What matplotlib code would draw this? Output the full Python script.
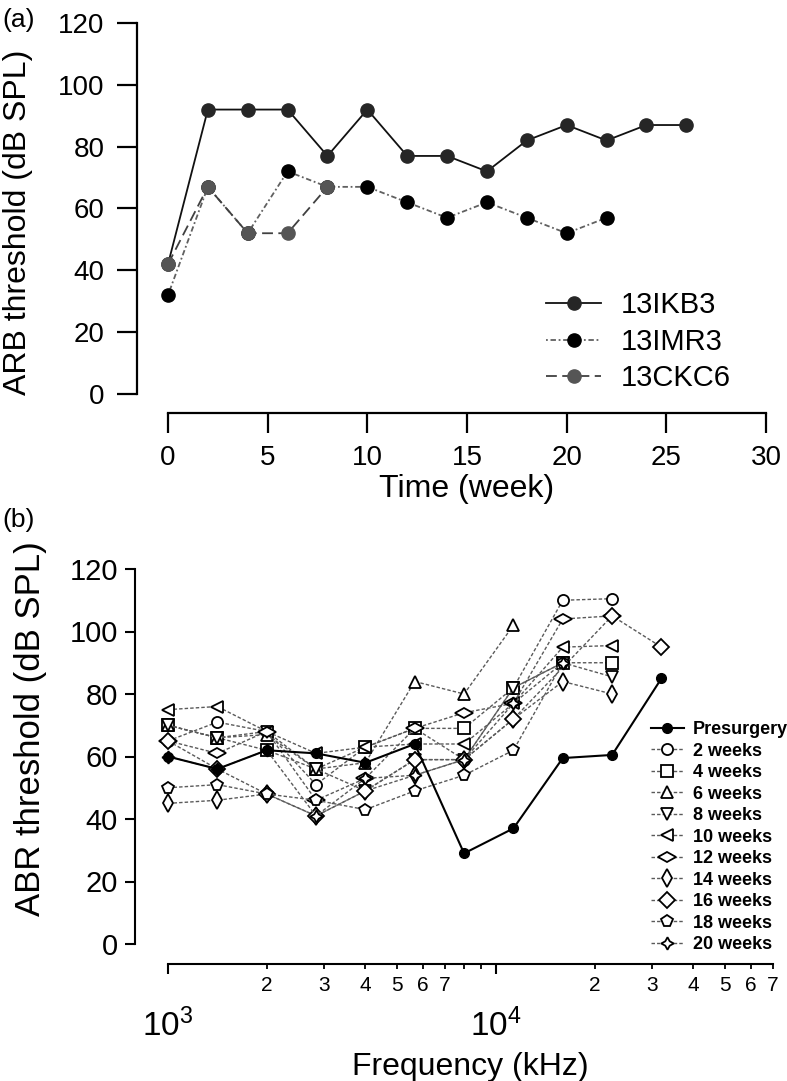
import numpy as np
import matplotlib
matplotlib.use("Agg")
import matplotlib.pyplot as plt
from matplotlib.markers import MarkerStyle
from matplotlib.transforms import Affine2D
from matplotlib.ticker import FixedLocator, FuncFormatter

plt.rcParams['font.family'] = ['Liberation Sans', 'DejaVu Sans']
plt.rcParams['mathtext.fontset'] = 'custom'
plt.rcParams['mathtext.rm'] = 'Liberation Sans'

# ---------------- Panel (a) data ----------------
weeks_ikb3 = [0, 2, 4, 6, 8, 10, 12, 14, 16, 18, 20, 22, 24, 26]
thr_ikb3 = [42, 92, 92, 92, 77, 92, 77, 77, 72, 82, 87, 82, 87, 87]
weeks_imr3 = [0, 2, 4, 6, 8, 10, 12, 14, 16, 18, 20, 22]
thr_imr3 = [32, 67, 52, 72, 67, 67, 62, 57, 62, 57, 52, 57]
weeks_ckc6 = [0, 2, 4, 6, 8]
thr_ckc6 = [42, 67, 52, 52, 67]
a_xticks = [0, 5, 10, 15, 20, 25, 30]
a_yticks = [0, 20, 40, 60, 80, 100, 120]

# ---------------- Panel (b) data ----------------
freqs = [1000, 1414, 2000, 2828, 4000, 5657, 8000, 11314, 16000, 22627, 32000]
series_names = ['Presurgery', '2 weeks', '4 weeks', '6 weeks', '8 weeks', '10 weeks',
                '12 weeks', '14 weeks', '16 weeks', '18 weeks', '20 weeks']
pre = [60, 56, 62, 61, 58, 64, 29, 37, 59.5, 60.5, 85]
w2 = [65, 71, 68, 51, 63, 69, 59, 82, 110, 110.5, None]
w4 = [70, 66, 62, 56, 63, 69, 69, 82, 90, 90, None]
w6 = [70, 66, 67, 56, 58, 84, 80, 102, None, None, None]
w8 = [70, 66, 68, 56, 49, 59, 59, 82, 90, 85.5, None]
w10 = [75, 76, 68, 61, 63, 64, 64, 77, 95, 95.5, None]
w12 = [65, 61, 68, 46, 53, 69, 74, 77, 104, 105, None]
w14 = [45, 46, 48, 41, 49, 54, 59, 72, 84, 80, None]
w16 = [65, 56, 48, 41, 49, 59, 59, 72, None, 105, 95]
w18 = [50, 51, 48, 46, 43, 49, 54, 62, 90, None, None]
w20 = [60, 56, 62, 41, 53, 54, 59, 77, 90, None, None]
b_yticks = [0, 20, 40, 60, 80, 100, 120]

W, H = 787, 1081
fig = plt.figure(figsize=(W / 100, H / 100), dpi=100)
PT = 0.72  # pt per px

# ---------------- Panel (a) ----------------
axa = fig.add_axes([168 / W, 1 - 394 / H, (766 - 168) / W, (394 - 23) / H])
axa.set_xlim(0, 30)
axa.set_ylim(0, 120)
ms_a = 9.5
axa.plot(weeks_ikb3, thr_ikb3, color='#111111', lw=1.3, ls='-', marker='o',
         ms=ms_a, mfc='#262626', mec='#262626', clip_on=False, label='13IKB3', zorder=3)
axa.plot(weeks_imr3, thr_imr3, color='#606060', lw=1.3, ls=(0, (1, 1.5, 3, 1.5)), marker='o',
         ms=ms_a, mfc='#000000', mec='#000000', clip_on=False, label='13IMR3', zorder=4)
axa.plot(weeks_ckc6, thr_ckc6, color='#404040', lw=1.3, ls=(0, (6, 3)), marker='o',
         ms=ms_a, mfc='#555555', mec='#555555', clip_on=False, label='13CKC6', zorder=5)
for s in ['top', 'right']:
    axa.spines[s].set_visible(False)
axa.spines['left'].set_position(('outward', 31 * PT))
axa.spines['bottom'].set_position(('outward', 19 * PT))
axa.spines['left'].set_bounds(0, 120)
axa.spines['bottom'].set_bounds(0, 30)
for s in ['left', 'bottom']:
    axa.spines[s].set_linewidth(1.6)
axa.set_xticks(a_xticks)
axa.set_yticks(a_yticks)
axa.tick_params(axis='both', length=20 * PT, width=1.6, labelsize=20, pad=9)
axa.set_ylabel('ARB threshold (dB SPL)', fontsize=23)
axa.yaxis.set_label_coords(-0.226, 0.464)
axa.set_xlabel('Time (week)', fontsize=23, labelpad=2)
axa.legend(loc='upper left', bbox_to_anchor=(546 / W, 1 - 291 / H), bbox_transform=fig.transFigure,
           frameon=False, fontsize=21, handlelength=1.9, handletextpad=0.65, labelspacing=0.3,
           borderpad=0, borderaxespad=0, numpoints=1)
fig.text(2 / W, 1 - 20 / H, '(a)', fontsize=19, va='center', ha='left')

# ---------------- Panel (b) ----------------
axb = fig.add_axes([168 / W, 1 - 944 / H, (773 - 168) / W, (944 - 569) / H])
axb.set_xscale('log')
axb.set_xlim(1000, 70000 * 1.0005)
axb.set_ylim(0, 120)

hdiamond = MarkerStyle('d', transform=Affine2D().rotate_deg(90))
markers = ['o', 'o', 's', '^', 'v', '<', hdiamond, 'd', 'D', 'p', (4, 1, 0)]
all_series = [pre, w2, w4, w6, w8, w10, w12, w14, w16, w18, w20]
msizes = [7, 8, 8, 8.5, 8.5, 8.5, 9, 9, 8, 8.5, 9]
handles = []
for i, (name, vals, mk, msz) in enumerate(zip(series_names, all_series, markers, msizes)):
    xs = [f for f, v in zip(freqs, vals) if v is not None]
    ys = [v for v in vals if v is not None]
    if i == 0:
        ln, = axb.plot(xs, ys, color='black', lw=1.5, ls='-', marker='o', ms=msz,
                       mfc='black', mec='black', clip_on=False, zorder=20, label=name)
    else:
        ln, = axb.plot(xs, ys, color='#5a5a5a', lw=1.0, ls=(0, (2.5, 1.5)), marker=mk, ms=msz,
                       mfc='white', mec='black', mew=1.3, clip_on=False, zorder=5 + i, label=name)
    handles.append(ln)

for s in ['top', 'right']:
    axb.spines[s].set_visible(False)
axb.spines['left'].set_position(('outward', 33 * PT))
axb.spines['bottom'].set_position(('outward', 20 * PT))
axb.spines['left'].set_bounds(0, 120)
axb.spines['bottom'].set_bounds(1000, 70000)
for s in ['left', 'bottom']:
    axb.spines[s].set_linewidth(1.5)
axb.set_yticks(b_yticks)
axb.tick_params(axis='y', length=10 * PT, width=1.5, labelsize=21, pad=5)

major_ticks = [1000, 10000]
minor_ticks = [2000, 3000, 4000, 5000, 6000, 7000, 8000, 9000,
               20000, 30000, 40000, 50000, 60000, 70000]
minor_labels = {2000: '2', 3000: '3', 4000: '4', 5000: '5', 6000: '6', 7000: '7',
                20000: '2', 30000: '3', 40000: '4', 50000: '5', 60000: '6', 70000: '7'}
axb.xaxis.set_major_locator(FixedLocator(major_ticks))
axb.xaxis.set_minor_locator(FixedLocator(minor_ticks))
axb.xaxis.set_major_formatter(FuncFormatter(
    lambda x, p: r'$\mathregular{10^{%d}}$' % int(round(np.log10(x)))))
axb.xaxis.set_minor_formatter(FuncFormatter(lambda x, p: minor_labels.get(int(round(x)), '')))
axb.tick_params(axis='x', which='major', length=10 * PT, width=1.5, labelsize=24, pad=25)
axb.tick_params(axis='x', which='minor', length=5 * PT, width=1.3, labelsize=15, pad=5)
axb.set_ylabel('ABR threshold (dB SPL)', fontsize=25)
axb.yaxis.set_label_coords(-0.2, 0.573)
axb.set_xlabel('Frequency (kHz)', fontsize=23, labelpad=6)

axb.legend(handles=handles, loc='upper left', bbox_to_anchor=(651 / W, 1 - 721 / H),
           bbox_transform=fig.transFigure, frameon=False,
           prop={'size': 13, 'weight': 'bold'}, handlelength=1.8, handletextpad=0.5,
           labelspacing=0.25, borderpad=0, borderaxespad=0, numpoints=1)
fig.text(2 / W, 1 - 520 / H, '(b)', fontsize=19, va='center', ha='left')

fig.savefig('out.png', dpi=100, facecolor='white')
